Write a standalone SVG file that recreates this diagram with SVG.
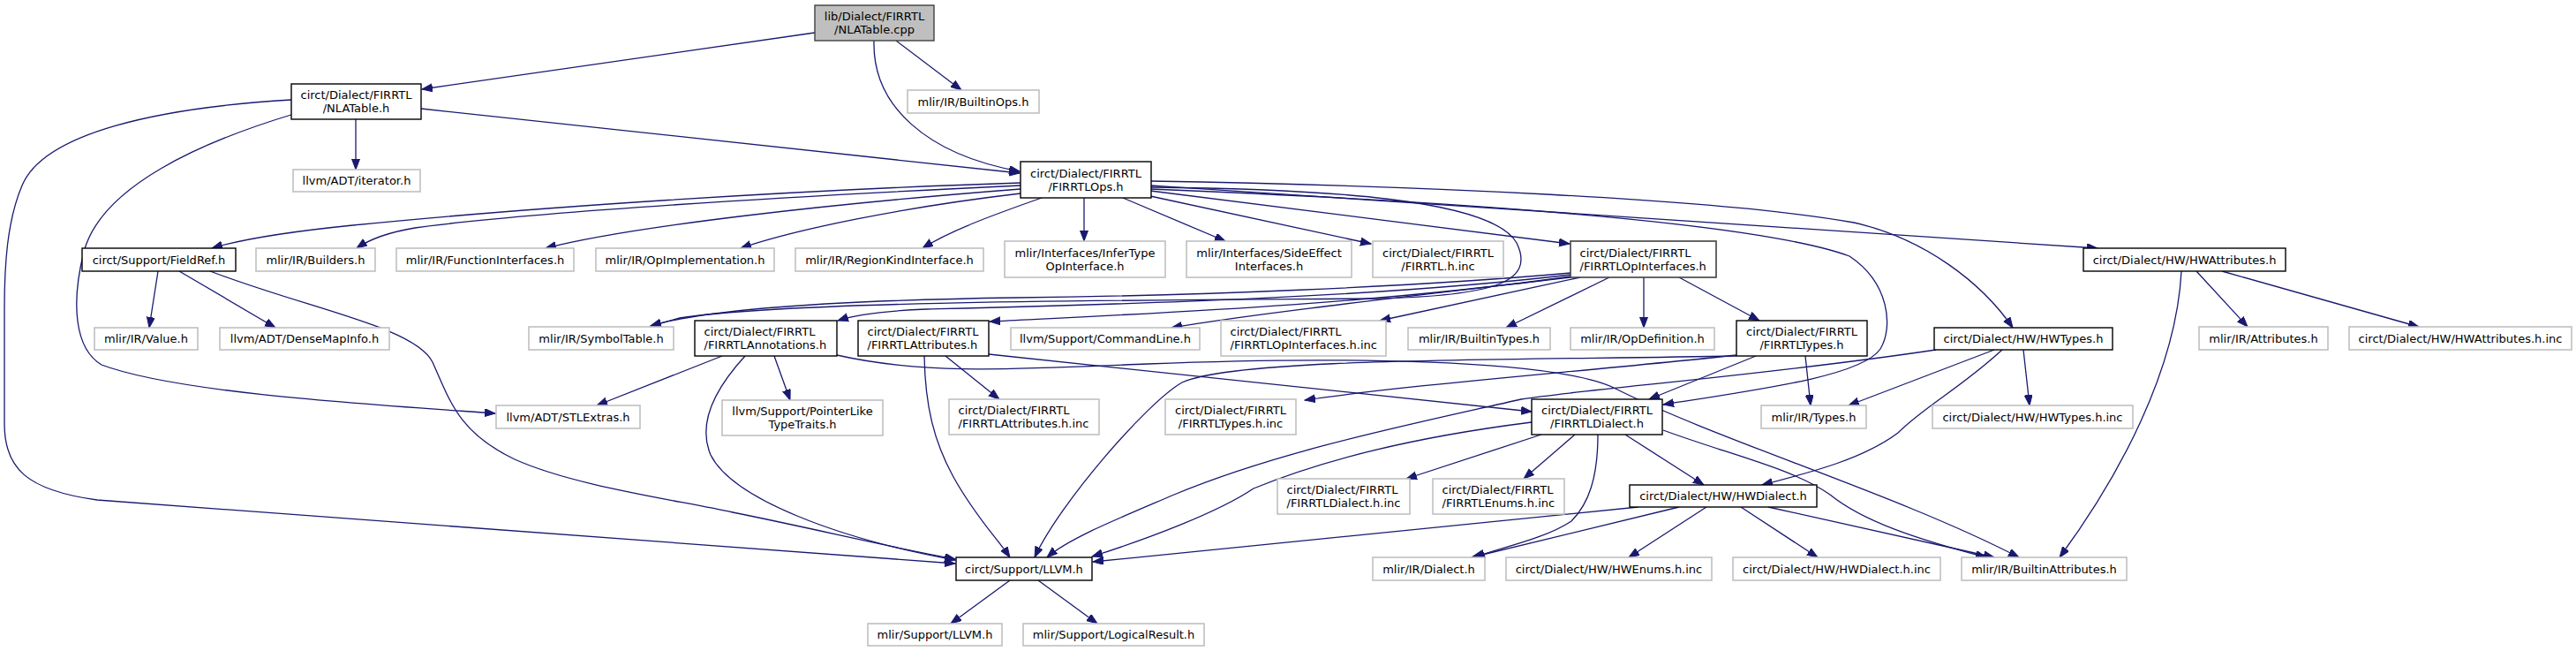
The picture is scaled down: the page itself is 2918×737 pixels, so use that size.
<svg xmlns="http://www.w3.org/2000/svg" width="2918" height="737" viewBox="0 0 2918 737">
<defs>
<marker id="a" markerUnits="userSpaceOnUse" markerWidth="13" markerHeight="10" refX="12" refY="4.5" orient="auto">
<path d="M0,0 L12,4.5 L0,9 z" fill="#191970" stroke="#191970" stroke-width="1"/>
</marker>
<style>
text{font-family:"DejaVu Sans","Liberation Sans",sans-serif;font-size:13px;fill:#000}
.n rect{fill:#fff;stroke:#000;stroke-width:1.4}
.g rect{fill:#fff;stroke:#c0c0c0;stroke-width:1.6}
.d rect{fill:#fff;stroke:#404040;stroke-width:1.6}
.r rect{fill:#bfbfbf;stroke:#404040;stroke-width:1.4}
.c text{text-anchor:middle}
#edges path{fill:none;stroke:#191970;stroke-width:1.3;marker-end:url(#a)}
</style>
</defs>
<rect width="2918" height="737" fill="#fff"/>
<g id="edges">
<path d="M923,37 L478,101"/>
<path d="M1015,46 L1089,102"/>
<path d="M990,46 C988,120 1050,175 1155,194"/>
<path d="M477,123 L1155,196"/>
<path d="M403,135 L403,192"/>
<path d="M330,113 C180,122 50,150 25,210 C8,250 5,300 5,350 L5,480 C5,530 30,555 110,566 L1082,638"/>
<path d="M333,129 C230,160 115,210 95,285 C80,345 85,395 115,413 C200,445 420,458 561,468"/>
<path d="M1156,207 C900,215 600,235 400,255 C320,263 270,272 240,281"/>
<path d="M1156,210 C900,222 600,240 470,258 C440,263 420,270 404,281"/>
<path d="M1156,214 C950,230 720,255 618,281"/>
<path d="M1156,219 C1020,235 900,260 839,281"/>
<path d="M1180,224 C1120,245 1075,262 1045,281"/>
<path d="M1228,224 L1228,273"/>
<path d="M1272,224 L1388,273"/>
<path d="M1303,222 L1553,276"/>
<path d="M1303,216 L1778,276"/>
<path d="M1303,210 C1700,235 2100,262 2376,281"/>
<path d="M1303,205 C1600,210 1950,225 2100,252 C2180,270 2245,320 2280,371"/>
<path d="M1303,214 C1700,230 2000,255 2095,290 C2140,320 2145,370 2130,395 C2110,425 2000,440 1884,458"/>
<path d="M1303,212 C1500,214 1690,225 1718,275 C1740,320 1690,335 1560,338 C1300,340 900,340 770,360 L737,369"/>
<path d="M1779,309 C1600,325 1350,335 1150,337 C950,340 800,350 737,369"/>
<path d="M1779,311 C1550,338 1250,345 1050,350 C1000,352 970,356 949,363"/>
<path d="M1779,313 C1550,345 1300,355 1121,364"/>
<path d="M1779,314 C1600,335 1420,355 1327,371"/>
<path d="M1790,314 L1563,363"/>
<path d="M1823,314 L1706,371"/>
<path d="M1862,314 L1862,371"/>
<path d="M1902,314 L1993,363"/>
<path d="M2488,307 L2546,370"/>
<path d="M2517,307 L2740,370"/>
<path d="M2471,307 C2465,420 2400,540 2333,631"/>
<path d="M179,307 L169,371"/>
<path d="M203,307 L312,371"/>
<path d="M238,307 C350,350 470,370 490,410 C510,455 520,490 583,520 C650,550 760,565 830,580 C920,598 1010,620 1082,633"/>
<path d="M818,403 L676,459"/>
<path d="M877,403 L895,453"/>
<path d="M844,403 C810,440 790,480 805,515 C830,565 950,610 1082,634"/>
<path d="M948,402 C1050,425 1150,418 1300,412 C1500,404 1760,405 1830,440 C1950,500 2150,560 2287,631"/>
<path d="M1047,403 C1048,460 1058,500 1080,540 C1105,585 1130,610 1144,631"/>
<path d="M1071,403 L1132,452"/>
<path d="M1120,401 L1735,466"/>
<path d="M1967,402 C1800,420 1600,435 1478,453"/>
<path d="M1967,403 C1700,408 1400,405 1339,433 C1300,455 1200,570 1172,631"/>
<path d="M1989,403 L1868,452"/>
<path d="M2045,403 L2051,459"/>
<path d="M2259,396 L2094,459"/>
<path d="M2292,396 L2299,459"/>
<path d="M2268,396 C2220,440 2180,460 2150,490 C2110,520 2050,535 1996,549"/>
<path d="M2193,396 C2000,425 1800,440 1723,452 C1600,480 1450,510 1330,560 C1260,590 1210,610 1186,631"/>
<path d="M1746,492 L1593,542"/>
<path d="M1784,492 L1726,542"/>
<path d="M1841,492 L1930,549"/>
<path d="M1810,492 C1810,540 1800,570 1780,590 C1750,610 1700,620 1670,631"/>
<path d="M1884,487 C1960,515 2030,530 2073,560 C2110,590 2170,610 2250,631"/>
<path d="M1735,478 C1600,495 1500,520 1420,553 C1380,580 1300,610 1237,630"/>
<path d="M1856,574 L1238,636"/>
<path d="M1902,574 L1667,631"/>
<path d="M1933,574 L1845,631"/>
<path d="M1972,574 L2059,631"/>
<path d="M2003,574 L2259,631"/>
<path d="M1144,657 L1077,706"/>
<path d="M1176,657 L1243,706"/>
</g>
<g id="root" class="r c"><rect x="923" y="6" width="135" height="40"/><text x="990.5" y="23">lib/Dialect/FIRRTL</text><text x="990.5" y="38">/NLATable.cpp</text></g>
<g id="nlatable_h" class="n c"><rect x="330" y="95" width="147" height="40"/><text x="403.5" y="112">circt/Dialect/FIRRTL</text><text x="403.5" y="127">/NLATable.h</text></g>
<g id="builtinops" class="g c"><rect x="1028" y="102" width="149" height="26"/><text x="1102.5" y="119.5">mlir/IR/BuiltinOps.h</text></g>
<g id="iterator" class="g c"><rect x="332" y="192" width="144" height="25"/><text x="404" y="209">llvm/ADT/iterator.h</text></g>
<g id="firrtlops" class="n c"><rect x="1156" y="183" width="148" height="41"/><text x="1230" y="200.5">circt/Dialect/FIRRTL</text><text x="1230" y="215.5">/FIRRTLOps.h</text></g>
<g id="fieldref" class="n c"><rect x="93" y="281" width="174" height="26"/><text x="180" y="298.5">circt/Support/FieldRef.h</text></g>
<g id="builders" class="g c"><rect x="290" y="281" width="135" height="26"/><text x="357.5" y="298.5">mlir/IR/Builders.h</text></g>
<g id="funcif" class="g c"><rect x="449" y="281" width="201" height="26"/><text x="549.5" y="298.5">mlir/IR/FunctionInterfaces.h</text></g>
<g id="opimpl" class="g c"><rect x="675" y="281" width="202" height="26"/><text x="776" y="298.5">mlir/IR/OpImplementation.h</text></g>
<g id="regionkind" class="g c"><rect x="901" y="281" width="213" height="26"/><text x="1007.5" y="298.5">mlir/IR/RegionKindInterface.h</text></g>
<g id="infertype" class="g c"><rect x="1138" y="273" width="182" height="41"/><text x="1229" y="290.5">mlir/Interfaces/InferType</text><text x="1229" y="305.5">OpInterface.h</text></g>
<g id="sideeffect" class="g c"><rect x="1344" y="273" width="187" height="41"/><text x="1437.5" y="290.5">mlir/Interfaces/SideEffect</text><text x="1437.5" y="305.5">Interfaces.h</text></g>
<g id="firrtl_inc" class="g c"><rect x="1555" y="273" width="148" height="41"/><text x="1629" y="290.5">circt/Dialect/FIRRTL</text><text x="1629" y="305.5">/FIRRTL.h.inc</text></g>
<g id="opinterfaces" class="d"><rect x="1779" y="273" width="165" height="41"/><text x="1789.5" y="290.5">circt/Dialect/FIRRTL</text><text x="1789.5" y="305.5">/FIRRTLOpInterfaces.h</text></g>
<g id="hwattributes" class="n c"><rect x="2360" y="281" width="229" height="26"/><text x="2474.5" y="298.5">circt/Dialect/HW/HWAttributes.h</text></g>
<g id="value" class="g c"><rect x="107" y="371" width="117" height="25"/><text x="165.5" y="388">mlir/IR/Value.h</text></g>
<g id="densemap" class="g c"><rect x="249" y="371" width="192" height="25"/><text x="345" y="388">llvm/ADT/DenseMapInfo.h</text></g>
<g id="symboltable" class="g c"><rect x="599" y="370" width="164" height="26"/><text x="681" y="387.5">mlir/IR/SymbolTable.h</text></g>
<g id="annotations" class="n"><rect x="787" y="363" width="161" height="40"/><text x="797.5" y="380">circt/Dialect/FIRRTL</text><text x="797.5" y="395">/FIRRTLAnnotations.h</text></g>
<g id="attributes" class="n"><rect x="972" y="363" width="148" height="40"/><text x="982.5" y="380">circt/Dialect/FIRRTL</text><text x="982.5" y="395">/FIRRTLAttributes.h</text></g>
<g id="commandline" class="g c"><rect x="1145" y="371" width="214" height="25"/><text x="1252" y="388">llvm/Support/CommandLine.h</text></g>
<g id="opinterfaces_inc" class="g"><rect x="1383" y="363" width="187" height="40"/><text x="1393.5" y="380">circt/Dialect/FIRRTL</text><text x="1393.5" y="395">/FIRRTLOpInterfaces.h.inc</text></g>
<g id="builtintypes" class="g c"><rect x="1595" y="371" width="161" height="25"/><text x="1675.5" y="388">mlir/IR/BuiltinTypes.h</text></g>
<g id="opdefinition" class="g c"><rect x="1779" y="371" width="163" height="25"/><text x="1860.5" y="388">mlir/IR/OpDefinition.h</text></g>
<g id="firrtltypes" class="n c"><rect x="1967" y="363" width="148" height="40"/><text x="2041" y="380">circt/Dialect/FIRRTL</text><text x="2041" y="395">/FIRRTLTypes.h</text></g>
<g id="hwtypes" class="n c"><rect x="2191" y="371" width="202" height="25"/><text x="2292" y="388">circt/Dialect/HW/HWTypes.h</text></g>
<g id="mlirattributes" class="g c"><rect x="2491" y="370" width="146" height="26"/><text x="2564" y="387.5">mlir/IR/Attributes.h</text></g>
<g id="hwattributes_inc" class="g c"><rect x="2661" y="370" width="252" height="26"/><text x="2787" y="387.5">circt/Dialect/HW/HWAttributes.h.inc</text></g>
<g id="stlextras" class="g c"><rect x="562" y="459" width="163" height="26"/><text x="643.5" y="476.5">llvm/ADT/STLExtras.h</text></g>
<g id="pointerlike" class="g c"><rect x="818" y="453" width="182" height="40"/><text x="909" y="470">llvm/Support/PointerLike</text><text x="909" y="485">TypeTraits.h</text></g>
<g id="attributes_inc" class="g"><rect x="1075" y="452" width="170" height="40"/><text x="1085.5" y="469">circt/Dialect/FIRRTL</text><text x="1085.5" y="484">/FIRRTLAttributes.h.inc</text></g>
<g id="firrtltypes_inc" class="g c"><rect x="1320" y="452" width="148" height="40"/><text x="1394" y="469">circt/Dialect/FIRRTL</text><text x="1394" y="484">/FIRRTLTypes.h.inc</text></g>
<g id="firrtldialect" class="n c"><rect x="1735" y="452" width="148" height="40"/><text x="1809" y="469">circt/Dialect/FIRRTL</text><text x="1809" y="484">/FIRRTLDialect.h</text></g>
<g id="mlirtypes" class="g c"><rect x="1995" y="459" width="119" height="26"/><text x="2054.5" y="476.5">mlir/IR/Types.h</text></g>
<g id="hwtypes_inc" class="g c"><rect x="2189" y="459" width="227" height="26"/><text x="2302.5" y="476.5">circt/Dialect/HW/HWTypes.h.inc</text></g>
<g id="firrtldialect_inc" class="g"><rect x="1447" y="542" width="150" height="40"/><text x="1457.5" y="559">circt/Dialect/FIRRTL</text><text x="1457.5" y="574">/FIRRTLDialect.h.inc</text></g>
<g id="firrtlenums_inc" class="g"><rect x="1623" y="542" width="149" height="40"/><text x="1633.5" y="559">circt/Dialect/FIRRTL</text><text x="1633.5" y="574">/FIRRTLEnums.h.inc</text></g>
<g id="hwdialect" class="n c"><rect x="1846" y="549" width="212" height="25"/><text x="1952" y="566">circt/Dialect/HW/HWDialect.h</text></g>
<g id="circt_llvm" class="n c"><rect x="1083" y="631" width="154" height="26"/><text x="1160" y="648.5">circt/Support/LLVM.h</text></g>
<g id="mlirdialect" class="g c"><rect x="1555" y="631" width="127" height="26"/><text x="1618.5" y="648.5">mlir/IR/Dialect.h</text></g>
<g id="hwenums_inc" class="g c"><rect x="1706" y="631" width="233" height="26"/><text x="1822.5" y="648.5">circt/Dialect/HW/HWEnums.h.inc</text></g>
<g id="hwdialect_inc" class="g c"><rect x="1963" y="631" width="235" height="26"/><text x="2080.5" y="648.5">circt/Dialect/HW/HWDialect.h.inc</text></g>
<g id="builtinattributes" class="g c"><rect x="2222" y="631" width="187" height="26"/><text x="2315.5" y="648.5">mlir/IR/BuiltinAttributes.h</text></g>
<g id="mlir_llvm" class="g c"><rect x="983" y="706" width="152" height="25"/><text x="1059" y="723">mlir/Support/LLVM.h</text></g>
<g id="logicalresult" class="g c"><rect x="1159" y="706" width="205" height="25"/><text x="1261.5" y="723">mlir/Support/LogicalResult.h</text></g>
</svg>
